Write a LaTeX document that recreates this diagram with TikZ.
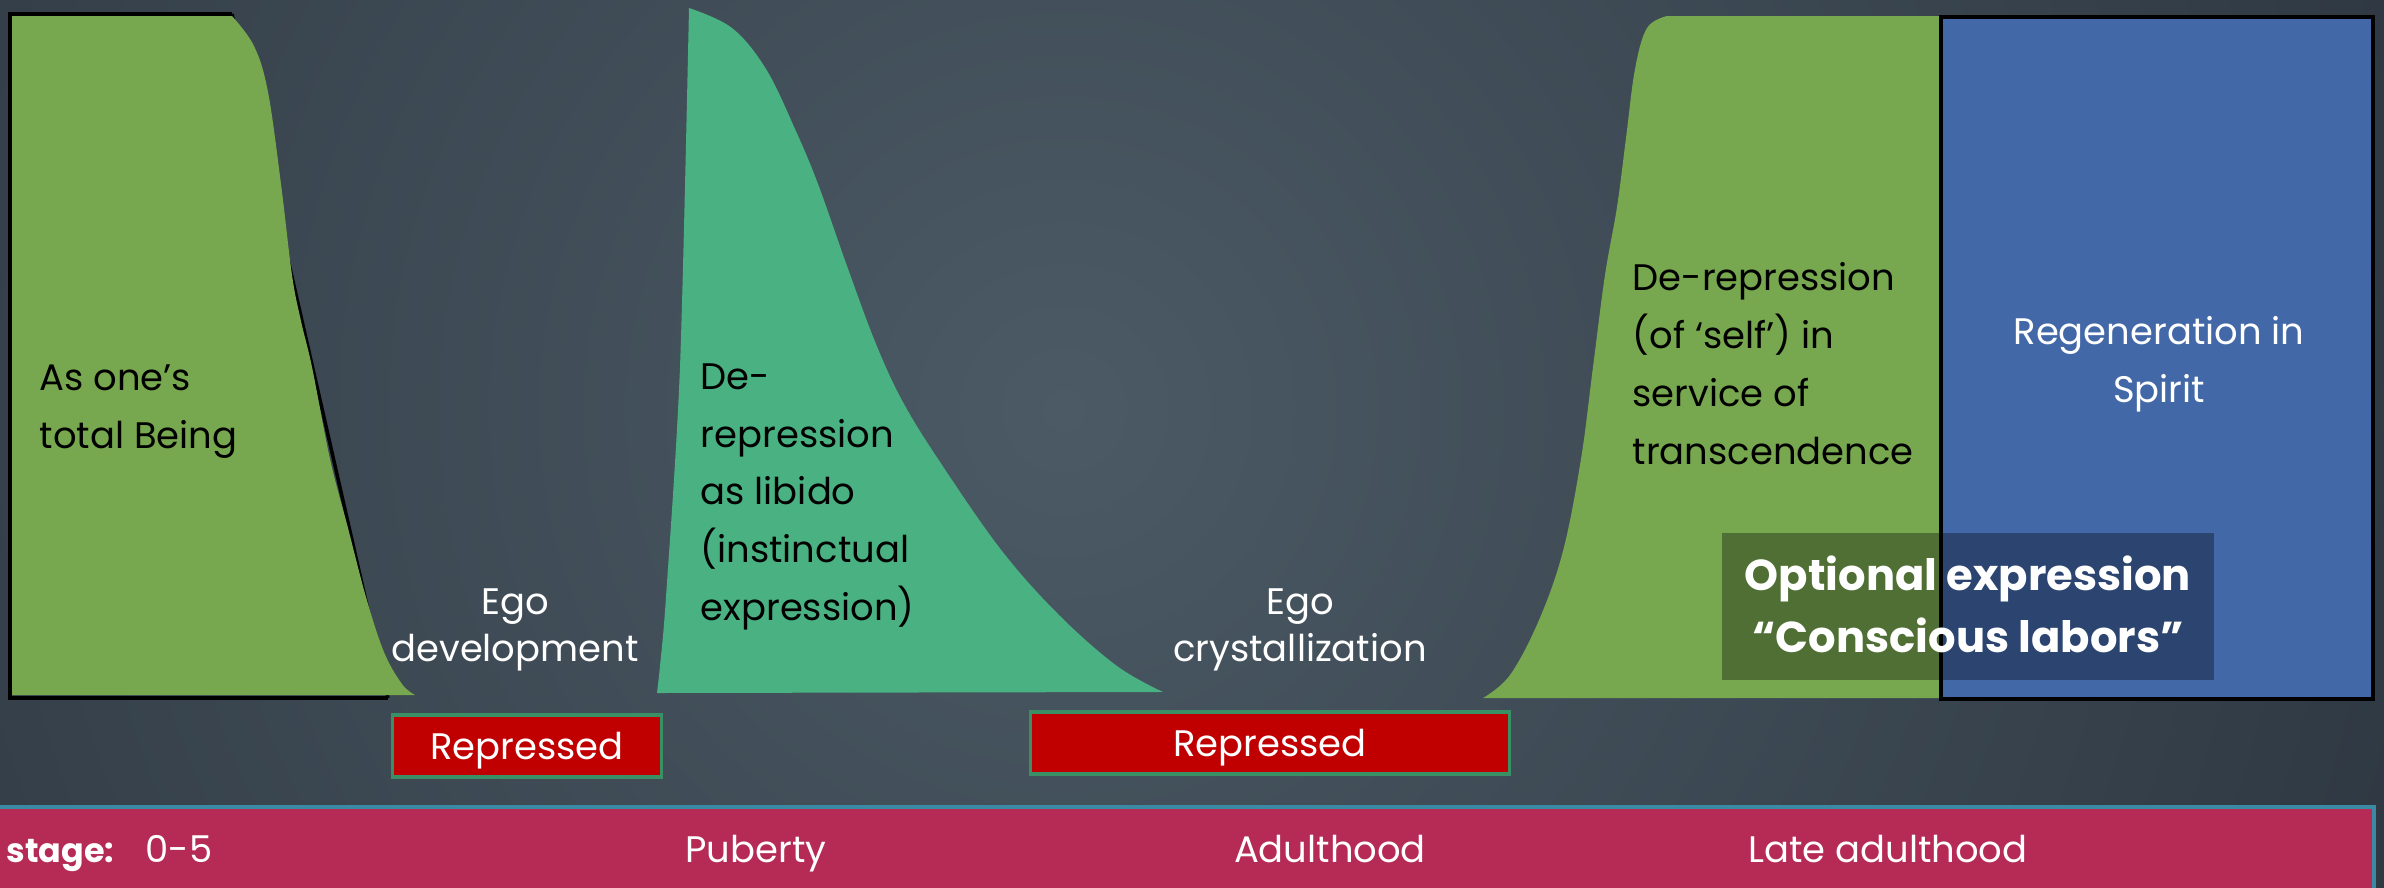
\documentclass[tikz,border=0pt]{standalone}
\usepackage{fontspec}
\setmainfont{Poppins}
\usepackage{tikz}
\definecolor{bgin}{RGB}{75,90,101}
\definecolor{bgout}{RGB}{29,35,44}
\definecolor{beinggreen}{RGB}{119,167,78}
\definecolor{libidogreen}{RGB}{74,178,130}
\definecolor{spiritblue}{RGB}{67,104,168}
\definecolor{repred}{RGB}{192,0,0}
\definecolor{repedge}{RGB}{58,143,100}
\definecolor{bandred}{RGB}{181,43,85}
\definecolor{bandedge}{RGB}{59,138,163}
\newcommand\bodysize{\fontsize{10.5}{16.4}\selectfont}
\newcommand\egosize{\fontsize{10.5}{13.1}\selectfont}
\newcommand\optsize{\fontsize{12.3}{17.6}\selectfont\bfseries}

\begin{document}
\begin{tikzpicture}[x=0.01cm,y=-0.01cm,
  outline/.style={draw=black,line width=1pt},
  darktext/.style={text=black,font=\bodysize,align=left,inner sep=0pt},
  lighttext/.style={text=white,font=\egosize,align=center,inner sep=0pt},
  optionaltext/.style={text=white,font=\optsize,align=center,inner sep=0pt},
  repbox/.style={fill=repred,draw=repedge,line width=0.9pt,text=white,font=\bodysize,
    minimum width=2.69cm,minimum height=0.62cm,inner sep=0pt,text depth=0pt},
  stagetext/.style={text=white,font=\bodysize,inner sep=0pt}]
	\useasboundingbox (0,0) rectangle (2384,887);
	%% background
	\clip (0,0) rectangle (2384,887);
	\shade[inner color=bgin,outer color=bgout] (1064,410) circle[radius=23cm];
	%% total being
	\draw[outline] (232,14) -- (388,698);
	\fill[beinggreen] (12,16) -- plot[smooth,tension=0.6] coordinates {(232,16) (254,46) (268,92) (281,184) (292,275) (301,321) (312,367) (330,459) (348,528) (366,597) (384,652) (402,684) (415,695)} -- (12,695) -- cycle;
	\draw[outline] (232,14) -- (10,14) -- (10,698) -- (388,698);
	%% libido
	\fill[libidogreen] (657,693) -- plot[smooth] coordinates {(657,693) (660,666) (666,597) (680,367) (689,8)} -- plot[smooth,tension=0.6] coordinates {(689,8) (732,28) (766,69) (795,129) (818,184) (847,266) (876,344) (904,404) (944,468) (1002,551) (1059,615) (1117,666) (1163,692)} -- cycle;
	%% transcendence and spirit
	\fill[beinggreen] (1483,698) -- plot[smooth,tension=0.6] coordinates {(1483,698) (1510,675) (1539,620) (1563,551) (1581,459) (1593,367) (1605,275) (1617,207) (1626,138) (1635,69) (1647,28) (1667,16)} -- (1950,16) -- (1950,698) -- cycle;
	\filldraw[fill=spiritblue,outline] (1941,17) rectangle (2373,699);
	\fill[black,fill opacity=0.33] (1722,533) rectangle (2214,680);
	%% stage band
	\fill[bandred] (-5,807) rectangle (2374,895);
	\draw[bandedge,line width=0.9pt] (-5,807) -- (2374,807) -- (2374,895);
	%% texts (base = last line)
	\node[darktext,anchor=base west] (being) at (39,448) {As one’s\\total Being};
	\node[lighttext,anchor=base] (egodev) at (515,661) {Ego\\development};
	\node[darktext,anchor=base west] (libido) at (700,620) {De-\\repression\\as libido\\(instinctual\\expression)};
	\node[lighttext,anchor=base] (egocryst) at (1300,661) {Ego\\crystallization};
	\node[darktext,anchor=base west] (transc) at (1632,464) {De-repression\\(of ‘self’) in\\service of\\transcendence};
	\node[lighttext,font=\bodysize,anchor=base] (regen) at (2159,402) {Regeneration in\\Spirit};
	\node[optionaltext,anchor=base] (optional) at (1968,652) {Optional expression\\“Conscious labors”};
	\node[repbox] (rep1) at (527,746) {Repressed};
	\node[repbox,minimum width=4.78cm] (rep2) at (1270,743) {Repressed};
	\node[stagetext,font=\fontsize{9.5}{12}\selectfont\bfseries,anchor=base west] (stage) at (6,862) {stage:};
	\node[stagetext,anchor=base west] (age) at (145,862) {0-5};
	\node[stagetext,anchor=base] (puberty) at (756,862) {Puberty};
	\node[stagetext,anchor=base] (adult) at (1330,862) {Adulthood};
	\node[stagetext,anchor=base] (lateadult) at (1888,862) {Late adulthood};
\end{tikzpicture}
\end{document}
